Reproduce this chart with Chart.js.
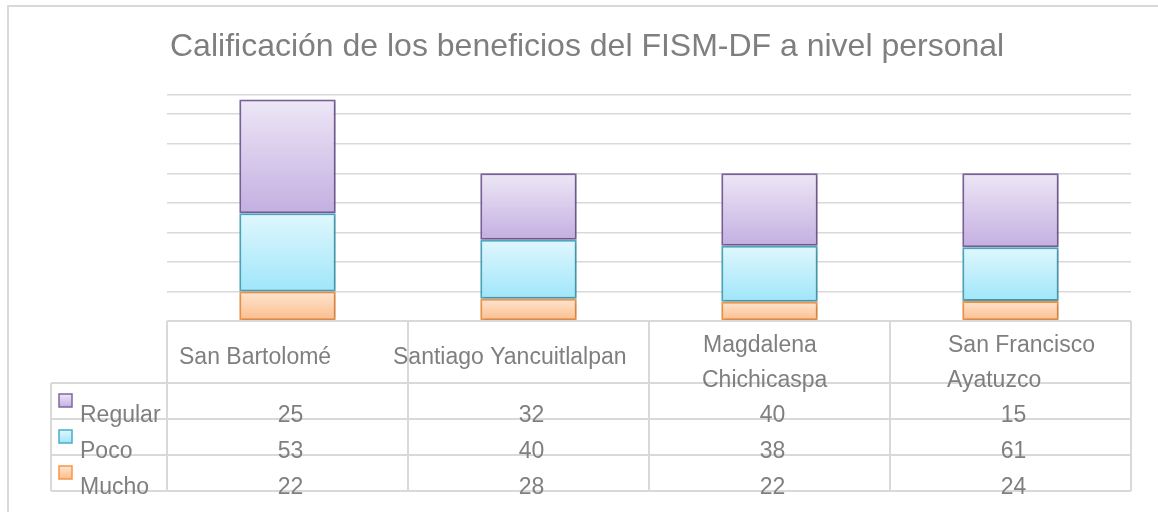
<!DOCTYPE html>
<html>
<head>
<meta charset="utf-8">
<script src="https://cdn.jsdelivr.net/npm/chart.js@4.4.1/dist/chart.umd.min.js"></script>
<style>
  body { margin: 0; background: #fff; }
  #wrap { width: 1158px; height: 512px; position: relative; }
</style>
</head>
<body>
<div id="wrap"><canvas id="grafico"></canvas></div>
<script>
// categorias (en lineas como aparecen en la tabla)
const categorias = ['San Bartolomé', 'Santiago Yancuitlalpan', 'Magdalena Chichicaspa', 'San Francisco Ayatuzco'];
const categoriasLineas = [['San Bartolomé'], ['Santiago Yancuitlalpan'], ['Magdalena', 'Chichicaspa'], ['San Francisco', 'Ayatuzco']];

// alturas de las barras
const barraMucho = [20, 15, 13, 13.5];
const barraPoco = [53, 40, 38, 36.5];
const barraRegular = [77, 45, 49, 50];

// valores que muestra la tabla de datos
const tablaRegular = [25, 32, 40, 15];
const tablaPoco = [53, 40, 38, 61];
const tablaMucho = [22, 28, 22, 24];

const ejeTicks = [0, 20, 40, 60, 80, 100, 120, 140, 153];

const titulo = 'Calificación de los beneficios del FISM-DF a nivel personal';
const gris = '#7f7f7f';
const lineaTabla = '#d9d9d9';
const fuente = '"Liberation Sans", Arial, sans-serif';

const estilos = {
    Regular: { top: '#ede7f6', bottom: '#c4afe1', border: '#8064a2' },
    Poco: { top: '#e0f7fd', bottom: '#9fe6fa', border: '#4bacc6' },
    Mucho: { top: '#fee5d0', bottom: '#fbbd8b', border: '#f79646' },
};

const series = [
    { label: 'Mucho', data: barraMucho },
    { label: 'Poco', data: barraPoco },
    { label: 'Regular', data: barraRegular },
];

function gradiente(context) {
    const chart = context.chart;
    const est = estilos[context.dataset.label];
    const y = chart.scales.y;
    if (!y || context.dataIndex === undefined) return est.bottom;
    let base = 0;
    for (let i = 0; i < context.datasetIndex; i++) base += chart.data.datasets[i].data[context.dataIndex];
    const tope = base + context.dataset.data[context.dataIndex];
    const y0 = y.getPixelForValue(tope), y1 = y.getPixelForValue(base);
    if (!isFinite(y0) || !isFinite(y1) || y0 === y1) return est.bottom;
    const g = chart.ctx.createLinearGradient(0, y0, 0, y1);
    g.addColorStop(0, est.top);
    g.addColorStop(1, est.bottom);
    return g;
}

const sombra = {
    id: 'sombra',
    beforeDatasetsDraw(chart) {
        const ctx = chart.ctx;
        ctx.save();
        ctx.shadowColor = 'rgba(0,0,0,0.22)';
        ctx.shadowBlur = 4;
        ctx.shadowOffsetX = 1;
        ctx.shadowOffsetY = 1;
    },
    afterDatasetsDraw(chart) {
        chart.ctx.restore();
    }
};

const tablaPlugin = {
    id: 'tabla',
    afterDraw(chart) {
        const ctx = chart.ctx;
        const area = chart.chartArea;
        const izq = area.left, der = area.right;
        const ancho = (der - izq) / categorias.length;
        const topHeader = area.bottom;
        const finHeader = topHeader + 62;
        const altoFila = 36;
        const finTabla = finHeader + altoFila * 3;
        const leyendaIzq = 51;

        ctx.save();
        // marco exterior
        ctx.strokeStyle = lineaTabla;
        ctx.lineWidth = 2;
        ctx.beginPath();
        ctx.moveTo(8, 512); ctx.lineTo(8, 6); ctx.lineTo(1158, 6);
        ctx.stroke();

        // titulo
        ctx.fillStyle = gris;
        ctx.font = '32px ' + fuente;
        ctx.textBaseline = 'alphabetic';
        ctx.textAlign = 'left';
        ctx.fillText(titulo, 170, 56);

        // lineas de la tabla
        ctx.lineWidth = 2;
        ctx.strokeStyle = lineaTabla;
        ctx.beginPath();
        ctx.moveTo(izq, topHeader); ctx.lineTo(der, topHeader);
        for (let r = 0; r <= 3; r++) {
            const yy = finHeader + r * altoFila;
            ctx.moveTo(leyendaIzq, yy); ctx.lineTo(der, yy);
        }
        for (let c = 0; c <= categorias.length; c++) {
            const xx = izq + c * ancho;
            ctx.moveTo(xx, topHeader); ctx.lineTo(xx, finTabla);
        }
        ctx.moveTo(leyendaIzq, finHeader); ctx.lineTo(leyendaIzq, finTabla);
        ctx.stroke();

        // encabezados
        ctx.font = '23px ' + fuente;
        ctx.fillStyle = gris;
        const desplaza = [12, -15, 53, 57];
        categoriasLineas.forEach((lineas, i) => {
            const x0 = izq + i * ancho + desplaza[i];
            if (lineas.length === 1) {
                ctx.fillText(lineas[0], x0, topHeader + 43);
            } else {
                ctx.fillText(lineas[0], x0 + 1, topHeader + 31);
                ctx.fillText(lineas[1], x0, topHeader + 66);
            }
        });

        // filas
        const filas = [
            { nombre: 'Regular', valores: tablaRegular },
            { nombre: 'Poco', valores: tablaPoco },
            { nombre: 'Mucho', valores: tablaMucho },
        ];
        filas.forEach((fila, r) => {
            const base = finHeader + r * altoFila + 39;
            const est = estilos[fila.nombre];
            // cuadro de leyenda
            const sy = finHeader + r * altoFila + 11;
            const g = ctx.createLinearGradient(0, sy, 0, sy + 13);
            g.addColorStop(0, est.top);
            g.addColorStop(1, est.bottom);
            ctx.fillStyle = g;
            ctx.fillRect(59, sy, 13, 13);
            ctx.strokeStyle = est.border;
            ctx.lineWidth = 1.5;
            ctx.strokeRect(59, sy, 13, 13);

            ctx.fillStyle = gris;
            ctx.textAlign = 'left';
            ctx.fillText(fila.nombre, 80, base);
            ctx.textAlign = 'center';
            fila.valores.forEach((v, i) => {
                ctx.fillText(String(v), izq + (i + 0.5) * ancho + 3, base);
            });
        });
        ctx.restore();
    }
};

const ctx = document.getElementById('grafico').getContext('2d');
new Chart(ctx, {
    type: 'bar',
    data: {
        labels: categorias,
        datasets: series.map(s => ({
            label: s.label,
            data: s.data,
            backgroundColor: gradiente,
            borderColor: estilos[s.label].border,
            borderWidth: 2,
            borderSkipped: false,
            categoryPercentage: 1,
            barPercentage: 0.4,
        })),
    },
    options: {
        responsive: true,
        maintainAspectRatio: false,
        animation: false,
        layout: { padding: { left: 167, right: 27, top: 95, bottom: 191 } },
        scales: {
            x: { stacked: true, display: false },
            y: {
                stacked: true,
                min: 0,
                max: 153,
                afterBuildTicks: scale => { scale.ticks = ejeTicks.map(v => ({ value: v })); },
                ticks: { display: false },
                border: { display: false },
                grid: { color: lineaTabla, lineWidth: 1.5, drawTicks: false },
            },
        },
        plugins: {
            legend: { display: false },
            tooltip: { enabled: false },
        },
    },
    plugins: [sombra, tablaPlugin],
});
</script>
</body>
</html>
